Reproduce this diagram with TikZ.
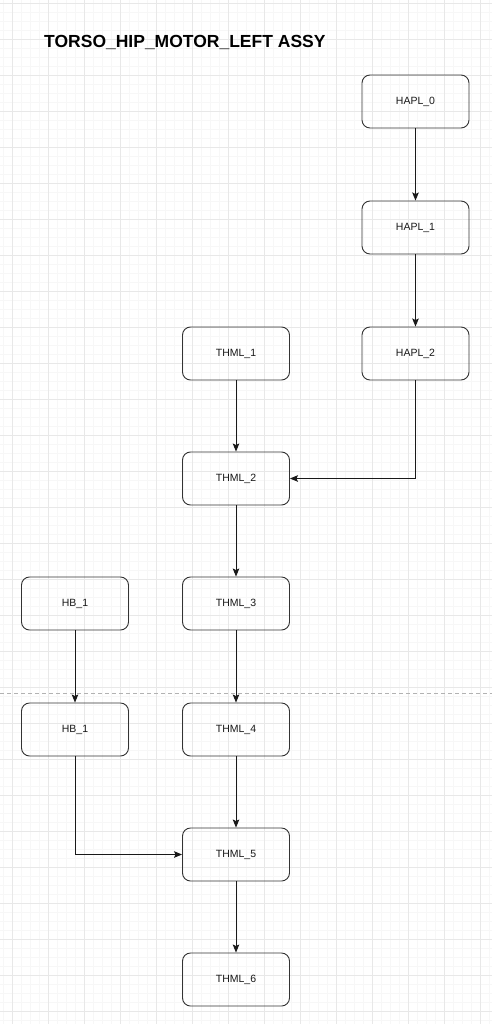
\documentclass[tikz,border=0pt]{standalone}
\usepackage{fontspec}
\setmainfont{Liberation Sans}
\usetikzlibrary{arrows.meta}
\begin{document}
\begin{tikzpicture}[x=1pt,y=-1pt,
  box/.style={draw=black!80, line width=0.9pt, rounded corners=8pt, minimum width=107pt, minimum height=53pt, inner sep=0pt, font=\fontsize{10.5}{12}\selectfont, text=black!90},
  conn/.style={draw=black!90, line width=0.9pt, -{Stealth[length=8pt,width=6.5pt,inset=1.5pt]}},
  minorgrid/.style={black!3, line width=0.4pt},
  majorgrid/.style={black!9, line width=0.7pt}]
\useasboundingbox (0,0) rectangle (492,1024);
\fill[white] (0,0) rectangle (492,1024);
% grid
\foreach \x in {3,12,...,492} \draw[minorgrid] (\x,0) -- (\x,1024);
\foreach \y in {3,12,...,1024} \draw[minorgrid] (0,\y) -- (492,\y);
\foreach \x in {12,48,...,492} \draw[majorgrid] (\x,0) -- (\x,1024);
\foreach \y in {3,39,...,1024} \draw[majorgrid] (0,\y) -- (492,\y);
% page break line
\draw[black!30, line width=0.8pt, dash pattern=on 4pt off 3pt] (0,693) -- (492,693);
% title
\node[font=\bfseries\fontsize{17.5}{20}\selectfont, anchor=west, inner sep=0pt] (title) at (44,42) {TORSO\_HIP\_MOTOR\_LEFT ASSY};
% nodes
\node[box] (hapl0) at (415.5,101.5) {HAPL\_0};
\node[box] (hapl1) at (415.5,227.5) {HAPL\_1};
\node[box] (hapl2) at (415.5,353.5) {HAPL\_2};
\node[box] (thml1) at (236,353.5) {THML\_1};
\node[box] (thml2) at (236,478.5) {THML\_2};
\node[box] (thml3) at (236,603.5) {THML\_3};
\node[box] (thml4) at (236,729.5) {THML\_4};
\node[box] (thml5) at (236,854.5) {THML\_5};
\node[box] (thml6) at (236,979.5) {THML\_6};
\node[box] (hba) at (75,603.5) {HB\_1};
\node[box] (hbb) at (75,729.5) {HB\_1};
% connectors
\draw[conn] (hapl0) -- (hapl1);
\draw[conn] (hapl1) -- (hapl2);
\draw[conn] (hapl2.south) |- (thml2.east);
\draw[conn] (thml1) -- (thml2);
\draw[conn] (thml2) -- (thml3);
\draw[conn] (thml3) -- (thml4);
\draw[conn] (thml4) -- (thml5);
\draw[conn] (thml5) -- (thml6);
\draw[conn] (hba) -- (hbb);
\draw[conn] (hbb.south) |- (thml5.west);
\end{tikzpicture}
\end{document}
